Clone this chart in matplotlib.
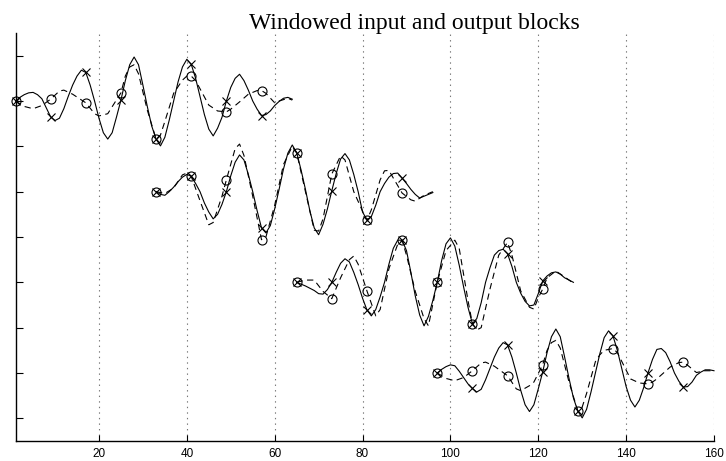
import matplotlib
matplotlib.use("Agg")
import matplotlib.pyplot as plt
import numpy as np

# Input blocks (solid): one value per sample, relative to the block's own baseline
b1_t_in = list(range(1, 65))
b1_in = [0.00, 0.08, 0.14, 0.18, 0.19, 0.14, 0.05, -0.15,
         -0.35, -0.43, -0.38, -0.17, 0.10, 0.35, 0.55, 0.68,
         0.63, 0.35, 0.00, -0.38, -0.70, -0.84, -0.70, -0.35,
         0.02, 0.45, 0.80, 0.97, 0.80, 0.35, -0.12, -0.55,
         -0.84, -0.99, -0.80, -0.42, 0.00, 0.42, 0.75, 0.92,
         0.81, 0.50, 0.10, -0.30, -0.62, -0.77, -0.60, -0.36,
         0.00, 0.30, 0.50, 0.59, 0.45, 0.24, 0.00, -0.18,
         -0.32, -0.30, -0.22, -0.10, -0.01, 0.06, 0.08, 0.04]

b2_t_in = list(range(33, 97))
b2_in = [0.00, -0.06, -0.08, 0.00, 0.10, 0.22, 0.32, 0.38,
         0.34, 0.18, 0.00, -0.25, -0.45, -0.60, -0.50, -0.28,
         0.00, 0.35, 0.65, 0.81, 0.70, 0.38, 0.00, -0.42,
         -0.80, -0.91, -0.75, -0.38, 0.05, 0.50, 0.85, 1.03,
         0.86, 0.48, 0.05, -0.42, -0.80, -0.95, -0.72, -0.38,
         0.02, 0.40, 0.72, 0.84, 0.70, 0.38, 0.00, -0.45,
         -0.62, -0.55, -0.30, 0.00, 0.18, 0.32, 0.40, 0.41,
         0.30, 0.18, 0.05, -0.06, -0.14, -0.10, -0.06, -0.02]

b3_t_in = list(range(65, 129))
b3_in = [0.00, -0.04, -0.08, -0.13, -0.18, -0.25, -0.26, -0.16,
         0.00, 0.22, 0.42, 0.52, 0.45, 0.22, -0.05, -0.35,
         -0.61, -0.74, -0.60, -0.32, 0.00, 0.40, 0.75, 0.93,
         0.93, 0.70, 0.22, -0.30, -0.72, -0.96, -0.75, -0.40,
         0.00, 0.48, 0.85, 0.98, 0.80, 0.38, -0.10, -0.55,
         -0.91, -0.80, -0.45, 0.00, 0.32, 0.60, 0.70, 0.73,
         0.63, 0.35, 0.00, -0.24, -0.42, -0.52, -0.50, -0.25,
         0.03, 0.14, 0.21, 0.23, 0.18, 0.10, 0.05, 0.00]

b4_t_in = list(range(97, 161))
b4_in = [0.00, 0.08, 0.14, 0.18, 0.16, 0.04, -0.10, -0.24,
         -0.34, -0.42, -0.36, -0.15, 0.10, 0.35, 0.55, 0.67,
         0.62, 0.35, 0.00, -0.38, -0.70, -0.85, -0.70, -0.35,
         0.02, 0.45, 0.80, 0.97, 0.80, 0.35, -0.12, -0.55,
         -0.84, -0.99, -0.80, -0.42, 0.00, 0.42, 0.78, 0.93,
         0.82, 0.50, 0.10, -0.30, -0.60, -0.75, -0.60, -0.32,
         0.01, 0.30, 0.52, 0.54, 0.45, 0.25, 0.00, -0.18,
         -0.31, -0.30, -0.20, -0.05, 0.02, 0.07, 0.07, 0.05]

# Output blocks (dashed): sample positions and values, relative to the block baseline
b1_t_out = [1, 3, 5, 7, 9, 11, 12, 14, 17, 19, 20, 22, 25, 26, 27, 28, 29, 31, 33, 34, 35, 37, 39, 40,
            41, 42, 45, 47, 49, 50, 52, 54, 56, 57, 58, 60, 61, 63, 64]
b1_out = [0.00, -0.12, -0.17, -0.10, 0.04, 0.22, 0.24, 0.15, -0.04, -0.28, -0.33, -0.28, 0.18, 0.55,
          0.75, 0.80, 0.60, -0.20, -0.84, -0.75, -0.45, 0.17, 0.46, 0.55, 0.55, 0.45, -0.09, -0.22,
          -0.24, -0.18, -0.02, 0.15, 0.23, 0.23, 0.17, -0.04, 0.00, 0.06, 0.02]

b2_t_out = [33, 35, 37, 39, 40, 41, 43, 45, 46, 48, 49, 51, 52, 53, 55, 57, 58, 60, 62, 64, 65, 67, 69,
            70, 71, 73, 75, 76, 78, 80, 81, 82, 84, 85, 86, 87, 89, 91, 92, 94, 96]
b2_out = [0.00, -0.04, 0.08, 0.37, 0.41, 0.34, -0.20, -0.73, -0.68, -0.10, 0.26, 0.95, 1.05, 0.80,
          -0.10, -1.06, -1.00, -0.30, 0.60, 1.00, 0.86, 0.00, -0.85, -0.87, -0.60, 0.39, 0.79, 0.70,
          0.00, -0.43, -0.63, -0.40, 0.26, 0.46, 0.47, 0.30, -0.03, -0.18, -0.21, -0.08, 0.00]

b3_t_out = [65, 67, 69, 71, 73, 75, 77, 78, 79, 81, 83, 84, 86, 88, 89, 90, 92, 94, 95, 97, 99, 101, 102,
            104, 105, 106, 107, 109, 111, 113, 114, 116, 118, 119, 120, 121, 122, 124, 126, 128]
b3_out = [0.00, 0.05, 0.05, -0.20, -0.36, 0.10, 0.50, 0.58, 0.40, -0.19, -0.74, -0.60, 0.30, 0.84, 0.93,
          0.60, -0.20, -0.80, -0.96, 0.00, 0.70, 0.93, 0.75, -0.40, -0.91, -1.05, -1.00, -0.15, 0.60,
          0.88, 0.60, -0.19, -0.55, -0.59, -0.34, -0.15, 0.10, 0.25, 0.12, -0.02]

b4_t_out = [97, 99, 101, 103, 105, 107, 108, 110, 113, 115, 116, 118, 119, 121, 122, 123, 124, 125, 127,
            129, 130, 131, 133, 134, 135, 137, 138, 141, 143, 145, 146, 147, 150, 152, 153, 154, 156,
            158, 160]
b4_out = [0.00, -0.12, -0.17, -0.10, 0.05, 0.22, 0.24, 0.15, -0.06, -0.35, -0.39, -0.28, -0.20, 0.18,
          0.50, 0.67, 0.72, 0.55, -0.20, -0.84, -0.75, -0.45, 0.25, 0.40, 0.50, 0.54, 0.45, -0.13,
          -0.22, -0.24, -0.20, -0.13, 0.13, 0.23, 0.24, 0.17, 0.01, 0.05, 0.05]

block_starts = [1, 33, 65, 97]
block_offsets = [0, -2, -4, -6]
marker_step = 8
x_ticks = [20, 40, 60, 80, 100, 120, 140, 160]
y_ticks = [1, 0, -1, -2, -3, -4, -5, -6, -7]
title_text = "Windowed input and output blocks"

blocks = [
    (b1_t_in, b1_in, b1_t_out, b1_out),
    (b2_t_in, b2_in, b2_t_out, b2_out),
    (b3_t_in, b3_in, b3_t_out, b3_out),
    (b4_t_in, b4_in, b4_t_out, b4_out),
]

plt.rcParams["lines.scale_dashes"] = False
fig = plt.figure(figsize=(7.26, 4.61), dpi=100)
ax = fig.add_axes([15.5 / 726, 20 / 461, (714 - 15.5) / 726, (441 - 33) / 461])

lw = 0.8
for (t_in, v_in, t_out, v_out), start, off in zip(blocks, block_starts, block_offsets):
    t_in = np.asarray(t_in, float)
    t_out = np.asarray(t_out, float)
    y_in = np.asarray(v_in) + off
    y_out = np.asarray(v_out) + off
    ax.plot(t_in, y_in, color="black", lw=lw, clip_on=False)
    ax.plot(t_out, y_out, color="black", lw=lw, linestyle=(0, (4.5, 3.2)), clip_on=False)
    # markers every 8 samples inside the block
    m_in = [i for i, t in enumerate(t_in) if (t - start) % marker_step == 0 and t - start < 64]
    m_out = [i for i, t in enumerate(t_out) if (t - start) % marker_step == 0 and t - start < 64]
    ax.plot(t_in[m_in], y_in[m_in], linestyle="none", marker="x", ms=5.5, mew=0.8,
            color="black", clip_on=False)
    ax.plot(t_out[m_out], y_out[m_out], linestyle="none", marker="o", ms=6.5, mew=0.8,
            mfc="none", mec="black", clip_on=False)

ax.set_xlim(1, 160)
ax.set_ylim(-7.5, 1.5)
ax.set_xticks(x_ticks)
ax.set_yticks(y_ticks)
ax.set_yticklabels([])
ax.tick_params(axis="x", direction="in", length=4, width=0.8, labelsize=8.5, pad=5)
ax.tick_params(axis="y", direction="in", length=5, width=0.8)
for lab in ax.get_xticklabels():
    lab.set_family("Liberation Sans")
ax.spines["top"].set_visible(False)
ax.spines["right"].set_visible(False)
ax.spines["left"].set_linewidth(1.0)
ax.spines["bottom"].set_linewidth(1.0)
ax.grid(axis="x", color="#777777", linestyle=(0, (1, 3)), linewidth=0.8)
ax.set_axisbelow(True)

fig.text(414.5 / 726, (461 - 29) / 461, title_text, ha="center", va="baseline",
         family="Liberation Serif", fontsize=17)

fig.savefig("out.png", dpi=100)
